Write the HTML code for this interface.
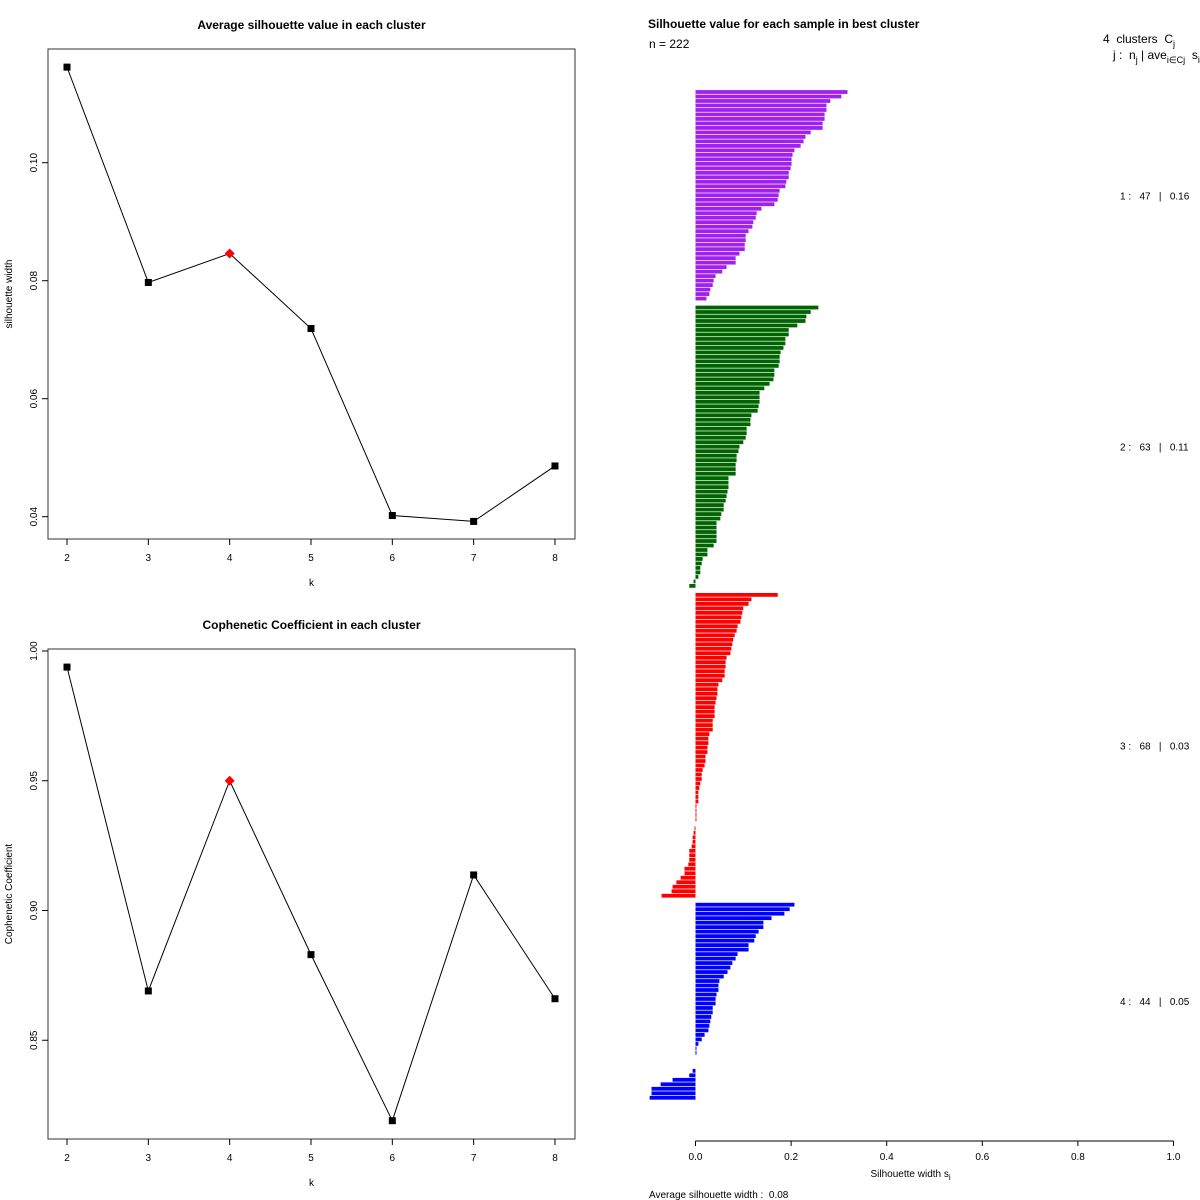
<!DOCTYPE html>
<html><head><meta charset="utf-8"><style>
html,body{margin:0;padding:0;background:#fff;}
svg{display:block;font-family:"Liberation Sans",Arial,sans-serif;}
text{white-space:pre;}
</style></head><body>
<svg id="chart" width="1200" height="1200" viewBox="0 0 1200 1200" xmlns="http://www.w3.org/2000/svg"></svg>
<script>
// ---- data ----
const kValues = [2,3,4,5,6,7,8];
const silAvg = [0.1162,0.0797,0.0846,0.0719,0.0402,0.0392,0.0486];
const cophenetic = [0.9938,0.869,0.950,0.883,0.819,0.9137,0.866];
const bestK = 4;
const silYTicks = [0.04,0.06,0.08,0.10];
const copYTicks = [0.85,0.90,0.95,1.00];
const silXTicks = [0,0.2,0.4,0.6,0.8,1.0];
const clusterNames = ["1","2","3","4"];
const clusterColors = ["#a020f0","#006400","#ff0000","#0000ff"];
const clusterAvg = ["0.16","0.11","0.03","0.05"];
const cluster1 = [.318,.305,.282,.274,.274,.270,.270,.266,.266,.241,.230,.226,.220,.207,.203,.201,.201,.199,.195,.195,.190,.188,.176,.174,.172,.165,.138,.128,.126,.121,.119,.111,.105,.105,.103,.103,.092,.084,.084,.065,.056,.042,.038,.036,.031,.029,.023];
const cluster2 = [.257,.241,.232,.230,.213,.195,.195,.188,.188,.184,.178,.176,.176,.174,.165,.165,.163,.155,.144,.134,.134,.134,.132,.130,.117,.115,.115,.107,.107,.105,.100,.092,.090,.086,.086,.084,.084,.084,.069,.069,.069,.067,.065,.063,.059,.059,.054,.052,.044,.044,.044,.044,.044,.038,.025,.025,.015,.013,.010,.010,.006,-.004,-.013];
const cluster3 = [.172,.117,.111,.100,.098,.096,.094,.088,.086,.082,.079,.077,.075,.073,.065,.063,.063,.061,.061,.056,.048,.046,.046,.044,.042,.040,.040,.040,.036,.036,.036,.029,.027,.027,.025,.025,.021,.021,.019,.015,.013,.013,.010,.008,.006,.006,.006,.002,.002,.002,.002,0,-.002,-.004,-.006,-.006,-.008,-.013,-.013,-.013,-.015,-.023,-.023,-.031,-.040,-.048,-.050,-.071];
const cluster4 = [.207,.197,.186,.159,.142,.142,.132,.126,.123,.111,.111,.088,.084,.077,.073,.067,.059,.050,.048,.048,.044,.042,.042,.036,.036,.033,.031,.029,.027,.019,.013,.006,.002,.002,0,0,0,-.006,-.013,-.048,-.073,-.092,-.092,-.096];
const clusters = [cluster1,cluster2,cluster3,cluster4];

const svg = document.getElementById('chart');
const NS = "http://www.w3.org/2000/svg";
function mk(tag, attrs, parent){
  const e = document.createElementNS(NS, tag);
  for (const k in attrs) e.setAttribute(k, attrs[k]);
  (parent||svg).appendChild(e);
  return e;
}
function txt(s, x, y, size, opts, parent){
  const e = mk('text', Object.assign({x:x, y:y, 'font-size':size, fill:'#000'}, opts||{}), parent);
  e.textContent = s;
  return e;
}

// ---- line panels ----
function linePanel(name, top, bottom, yAt, yRef, slope, vals, ticks, fmt, title, ylab){
  const g = mk('g', {});
  
  
  const L=48, R=575;
  const xs = k => 67 + (k-2)*81.33;
  const ys = v => yAt - (v - yRef)*slope;
  const box = mk('rect', {x:L, y:top, width:R-L, height:bottom-top, fill:'none', stroke:'#333', 'stroke-width':1}, g);
  
  
  const t = txt(title, (L+R)/2, top-20, 12, {'text-anchor':'middle','font-weight':'bold'}, g);
  
  
  kValues.forEach(k=>{
    mk('line',{x1:xs(k),x2:xs(k),y1:bottom,y2:bottom+6,stroke:'#000'},g);
    const tl = txt(String(k), xs(k), bottom+22, 10, {'text-anchor':'middle'}, g);
    
    
  });
  const xl = txt('k', (L+R)/2, bottom+47, 10, {'text-anchor':'middle'}, g);
  
  
  ticks.forEach(v=>{
    mk('line',{x1:L-6,x2:L,y1:ys(v),y2:ys(v),stroke:'#000'},g);
    const tl = txt(fmt(v), 0, 0, 10, {'text-anchor':'middle', transform:`translate(37,${ys(v)}) rotate(-90)`}, g);
    
    
  });
  const yl = txt(ylab, 0, 0, 10, {'text-anchor':'middle', transform:`translate(12,${(top+bottom)/2}) rotate(-90)`}, g);
  
  
  const pts = vals.map((v,i)=>xs(kValues[i])+','+ys(v)).join(' ');
  const pl = mk('polyline',{points:pts, fill:'none', stroke:'#000', 'stroke-width':1}, g);
  
  
  vals.forEach((v,i)=>{
    const x = xs(kValues[i]), y = ys(v);
    let p;
    if (kValues[i]===bestK){
      p = mk('polygon',{points:`${x},${y-5} ${x+5},${y} ${x},${y+5} ${x-5},${y}`, fill:'#ff0000'}, g);
    } else {
      p = mk('rect',{x:x-3.5,y:y-3.5,width:7,height:7,fill:'#000'}, g);
    }
    
    
  });
}
linePanel('silhouette-panel', 49, 539, 162.7, 0.10, 5900, silAvg, silYTicks, v=>v.toFixed(2),
  'Average silhouette value in each cluster', 'silhouette width');
linePanel('cophenetic-panel', 649, 1139, 651, 1.00, 2595, cophenetic, copYTicks, v=>v.toFixed(2),
  'Cophenetic Coefficient in each cluster', 'Cophenetic Coefficient');

// ---- silhouette bars ----
const sg = mk('g', {});


const x0 = 695.5, xScale = 478;
const sx = v => x0 + v*xScale;
const slot = 4.49, firstY = 92, barH = 3.8;
const st = txt('Silhouette value for each sample in best cluster', 648, 28, 12, {'font-weight':'bold'}, sg);


const nn = txt('n = 222', 649, 48, 12, {}, sg);


const h1 = mk('text',{x:1103,y:43,'font-size':12},sg);
h1.innerHTML = '4  clusters  C<tspan font-size="9" dy="4">j</tspan>';


const h2 = mk('text',{x:1113,y:59,'font-size':12},sg);
h2.innerHTML = 'j :  n<tspan font-size="9" dy="4">j</tspan><tspan dy="-4"> | ave</tspan><tspan font-size="9" dy="4">i∈Cj</tspan><tspan dy="-4">  s</tspan><tspan font-size="9" dy="4">i</tspan>';


let idx = 0;
clusters.forEach((arr,c)=>{
  const startIdx = idx;
  arr.forEach(v=>{
    const y = firstY + idx*slot;
    const xa = Math.min(sx(0), sx(v)), w = Math.abs(sx(v)-sx(0));
    if (w > 0){
      const b = mk('rect',{x:xa, y:y-barH/2, width:w, height:barH, fill:clusterColors[c]}, sg);
      
      
    }
    idx++;
  });
  const midY = firstY + ((startIdx + idx - 1)/2)*slot;
  const lab = txt(`${clusterNames[c]} :   ${arr.length}   |   ${clusterAvg[c]}`, 1120, midY+4, 10, {}, sg);
  
  
  idx += 1;
});
const axY = 1141;
mk('line',{x1:sx(0),x2:sx(1),y1:axY,y2:axY,stroke:'#000'},sg);
silXTicks.forEach(v=>{
  mk('line',{x1:sx(v),x2:sx(v),y1:axY,y2:axY+5,stroke:'#000'},sg);
  const tl = txt(v.toFixed(1), sx(v), axY+19, 10, {'text-anchor':'middle'}, sg);
  
  
});
const xt = mk('text',{x:sx(0.45),y:1177,'font-size':10,'text-anchor':'middle'},sg);
xt.innerHTML = 'Silhouette width s<tspan font-size="8" dy="3">i</tspan>';


const av = txt('Average silhouette width :  0.08', 649, 1198, 10, {}, sg);


</script>
</body></html>
